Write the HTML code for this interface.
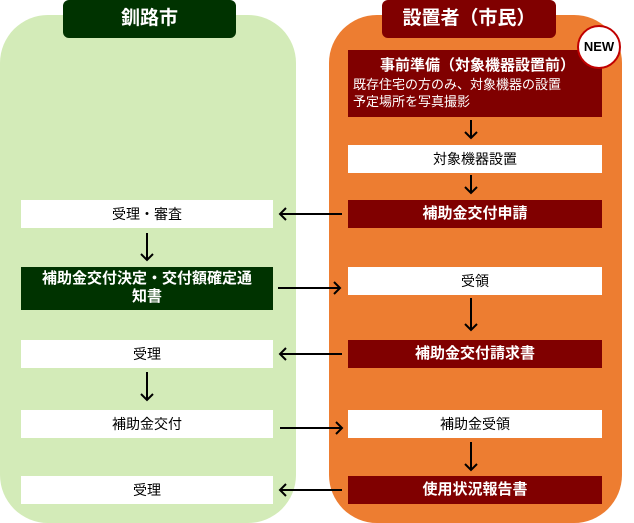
<!DOCTYPE html>
<html><head><meta charset="utf-8"><style>
body{margin:0;width:634px;height:523px;position:relative;background:#fff;font-family:"Liberation Sans","Noto Sans CJK JP",sans-serif;overflow:hidden}
div{position:absolute;box-sizing:border-box}
.pl{left:0;top:15px;width:296px;height:508px;background:#d3ebb8;border-radius:48px}
.pr{left:329px;top:15px;width:293px;height:508px;background:#ed7d31;border-radius:48px}
.h{top:0;height:38px;border-radius:6px;color:#fff;font-size:19px;font-weight:bold;text-align:center;line-height:38px}
.b{height:28px;font-size:14px;text-align:center;line-height:28px;background:#fff;color:#000}
.L{left:21px;width:252px}.R{left:348px;width:254px}
.r{background:#800000;color:#fff;font-weight:bold;font-size:15px}
</style></head><body>
<div class="pl"></div><div class="pr"></div>
<div class="h" style="left:63px;width:173px;background:#003300">釧路市</div>
<div class="h" style="left:382px;width:174px;background:#800000">設置者（市民）</div>
<div class="R" style="top:50px;height:67px;background:#800000;color:#fff;padding:6px 0 0 5px;font-size:13px;line-height:17px"><div style="position:static;text-align:center;font-weight:bold;font-size:15px;line-height:20px">事前準備（対象機器設置前）</div>既存住宅の方のみ、対象機器の設置<br>予定場所を写真撮影</div>
<div style="left:577px;top:25px;width:44px;height:44px;border-radius:50%;background:#fff;border:2px solid #c00000;font-size:13px;font-weight:bold;color:#000;text-align:center;line-height:40px">NEW</div>
<div class="b R" style="top:145px">対象機器設置</div>
<div class="b L" style="top:200px">受理・審査</div>
<div class="b R r" style="top:200px">補助金交付申請</div>
<div class="L" style="top:267px;height:43px;background:#003300;color:#fff;font-weight:bold;font-size:15px;text-align:center;line-height:18px;padding-top:3px">補助金交付決定・交付額確定通<br>知書</div>
<div class="b R" style="top:267px">受領</div>
<div class="b L" style="top:340px">受理</div>
<div class="b R r" style="top:340px">補助金交付請求書</div>
<div class="b L" style="top:410px">補助金交付</div>
<div class="b R" style="top:410px">補助金受領</div>
<div class="b L" style="top:476px">受理</div>
<div class="b R r" style="top:476px">使用状況報告書</div>
<svg width="634" height="523" style="position:absolute;left:0;top:0">
<g stroke="#000" stroke-width="2" fill="none">
<path d="M471 120V138M465 132l6 6 6-6"/>
<path d="M471 175V193M465 187l6 6 6-6"/>
<path d="M147 233V260M141 254l6 6 6-6"/>
<path d="M471 298V330M465 324l6 6 6-6"/>
<path d="M147 372V400M141 394l6 6 6-6"/>
<path d="M471 442V470M465 464l6 6 6-6"/>
<path d="M342 214H280M286 208l-6 6 6 6"/>
<path d="M278 288H340M334 282l6 6-6 6"/>
<path d="M342 354H280M286 348l-6 6 6 6"/>
<path d="M280 428H342M336 422l6 6-6 6"/>
<path d="M342 490H280M286 484l-6 6 6 6"/>
</g></svg>
</body></html>
